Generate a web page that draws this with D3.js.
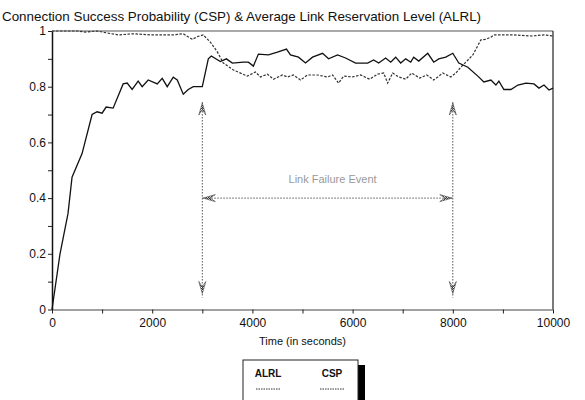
<!DOCTYPE html>
<html>
<head>
<meta charset="utf-8">
<script src="https://cdn.jsdelivr.net/npm/d3@7"></script>
<style>
  body { margin: 0; background: #fff; }
  svg { display: block; font-family: "Liberation Sans", Arial, Helvetica, sans-serif; }
</style>
</head>
<body>
<svg id="chart" width="585" height="400"></svg>
<script>
// ALRL (solid) and CSP (dashed)
const alrlTime = [0, 160, 320, 400, 600, 800, 900, 1000, 1080, 1220, 1420, 1500, 1600, 1720, 1800, 1920, 2100, 2200, 2300, 2420, 2500, 2620, 2720, 2820, 3000, 3120, 3180, 3360, 3480, 3600, 3820, 3920, 4020, 4120, 4320, 4500, 4680, 4760, 4920, 5060, 5200, 5400, 5520, 5700, 5860, 6060, 6300, 6420, 6520, 6660, 6760, 6860, 6960, 7060, 7160, 7220, 7320, 7500, 7620, 7720, 7860, 8000, 8120, 8300, 8500, 8620, 8760, 8860, 8920, 9020, 9160, 9300, 9460, 9620, 9720, 9820, 9920, 10000];
const alrlValue = [0, 0.2, 0.345, 0.475, 0.56, 0.70, 0.71, 0.705, 0.727, 0.723, 0.81, 0.813, 0.79, 0.82, 0.80, 0.824, 0.81, 0.83, 0.80, 0.834, 0.824, 0.773, 0.79, 0.80, 0.80, 0.90, 0.91, 0.89, 0.90, 0.885, 0.888, 0.888, 0.874, 0.917, 0.914, 0.924, 0.935, 0.914, 0.906, 0.885, 0.906, 0.92, 0.90, 0.914, 0.903, 0.885, 0.885, 0.896, 0.885, 0.903, 0.888, 0.906, 0.885, 0.90, 0.888, 0.906, 0.892, 0.92, 0.888, 0.90, 0.906, 0.92, 0.885, 0.87, 0.838, 0.817, 0.824, 0.806, 0.82, 0.79, 0.79, 0.806, 0.813, 0.81, 0.795, 0.806, 0.788, 0.795];

const cspTime = [0, 300, 520, 660, 900, 1100, 1320, 1620, 1960, 2420, 2620, 2800, 2900, 3020, 3160, 3300, 3420, 3620, 3900, 4060, 4160, 4300, 4420, 4600, 4700, 4820, 4960, 5100, 5300, 5500, 5600, 5720, 5820, 6000, 6160, 6340, 6500, 6620, 6700, 6800, 6920, 7060, 7180, 7340, 7480, 7620, 7800, 7960, 8060, 8160, 8260, 8400, 8560, 8660, 8760, 8820, 9220, 9560, 9820, 10000];
const cspValue = [1.0, 1.0, 1.0, 0.996, 1.0, 0.993, 0.986, 0.99, 0.986, 0.986, 0.99, 0.97, 0.98, 0.986, 0.96, 0.925, 0.885, 0.86, 0.838, 0.853, 0.835, 0.845, 0.827, 0.842, 0.835, 0.842, 0.824, 0.842, 0.842, 0.835, 0.842, 0.813, 0.838, 0.835, 0.842, 0.827, 0.845, 0.849, 0.813, 0.849, 0.835, 0.827, 0.849, 0.831, 0.842, 0.824, 0.849, 0.835, 0.849, 0.87, 0.888, 0.914, 0.968, 0.97, 0.978, 0.986, 0.986, 0.982, 0.986, 0.982];

const xTicks = [0, 2000, 4000, 6000, 8000, 10000];
const yTicks = [0, 0.2, 0.4, 0.6, 0.8, 1];
const legendNames = ['ALRL', 'CSP'];

// link failure annotation: from 3000s to 8000s
const failStart = 3000, failEnd = 8000;
const failTop = 0.745, failBottom = 0.043, failLevel = 0.4;

const svg = d3.select('#chart');
svg.append('rect').attr('width', 585).attr('height', 400).attr('fill', '#fff');

const margin = { top: 31, right: 32, bottom: 90, left: 52 };
const width = 585 - margin.left - margin.right;
const height = 400 - margin.top - margin.bottom - 0.5;

const g = svg.append('g').attr('transform', `translate(${margin.left},${margin.top})`);

const x = d3.scaleLinear().domain([0, 10000]).range([0, width]);
const y = d3.scaleLinear().domain([0, 1]).range([height, 0]);

// title
svg.append('text')
    .attr('x', 2).attr('y', 21)
    .attr('font-size', '13.4px').attr('fill', '#111')
    .text('Connection Success Probability (CSP) & Average Link Reservation Level (ALRL)');

// frame (top + right)
g.append('line').attr('x1', 0).attr('x2', width).attr('y1', 0).attr('y2', 0)
    .attr('stroke', '#555').attr('stroke-width', 1);
g.append('line').attr('x1', width).attr('x2', width).attr('y1', 0).attr('y2', height)
    .attr('stroke', '#222').attr('stroke-width', 1.2);

// axes
const xAxis = g.append('g').attr('transform', `translate(0,${height})`)
    .call(d3.axisBottom(x).tickValues(d3.range(0, 10001, 1000))
        .tickFormat(d => xTicks.includes(d) ? d : '').tickSize(4).tickSizeOuter(0));
xAxis.select('.domain').attr('stroke', '#444').attr('stroke-width', 1.2);
xAxis.selectAll('line').attr('stroke', '#222');
xAxis.selectAll('text').attr('font-size', '12px').attr('fill', '#111').attr('dy', '0.9em');

const yAxis = g.append('g')
    .call(d3.axisLeft(y).tickValues(d3.range(0, 11).map(i => i / 10))
        .tickFormat(d => yTicks.some(t => Math.abs(t - d) < 1e-9) ? d3.format('~g')(d) : '')
        .tickSize(4).tickSizeOuter(0));
yAxis.select('.domain').attr('stroke', '#111').attr('stroke-width', 1.5);
yAxis.selectAll('line').attr('stroke', '#222');
yAxis.selectAll('text').attr('font-size', '12px').attr('fill', '#111').attr('x', -6);

svg.append('text')
    .attr('x', margin.left + width / 2).attr('y', 345)
    .attr('text-anchor', 'middle').attr('font-size', '11px').attr('fill', '#111')
    .text('Time (in seconds)');

// series
const line = d3.line().x(d => x(d[0])).y(d => y(d[1]));
g.append('path')
    .datum(d3.zip(cspTime, cspValue))
    .attr('d', line).attr('fill', 'none')
    .attr('stroke', '#333').attr('stroke-width', 1.2).attr('stroke-dasharray', '2.5,1.5');
g.append('path')
    .datum(d3.zip(alrlTime, alrlValue))
    .attr('d', line).attr('fill', 'none')
    .attr('stroke', '#111').attr('stroke-width', 1.3);

// checkered fill for the arrowheads
const pat = svg.append('defs').append('pattern')
    .attr('id', 'checker').attr('width', 2).attr('height', 2)
    .attr('patternUnits', 'userSpaceOnUse');
pat.append('rect').attr('width', 1).attr('height', 1).attr('fill', '#333');
pat.append('rect').attr('x', 1).attr('y', 1).attr('width', 1).attr('height', 1).attr('fill', '#333');

const ann = g.append('g');
const dotted = sel => sel.attr('stroke', '#555').attr('stroke-width', 1).attr('stroke-dasharray', '1.5,1.5');

[failStart, failEnd].forEach(t => {
    ann.append('line').attr('x1', x(t)).attr('x2', x(t))
        .attr('y1', y(failTop)).attr('y2', y(failBottom)).call(dotted);
});
ann.append('line').attr('x1', x(failStart)).attr('x2', x(failEnd))
    .attr('y1', y(failLevel)).attr('y2', y(failLevel)).call(dotted);

// arrowhead: tip at (px,py), dir in radians
function arrowHead(px, py, angle) {
    const len = 12, half = 3.5;
    const pts = [[0, 0], [len, -half], [len * 0.55, 0], [len, half]].map(([a, b]) => [
        px + a * Math.cos(angle) - b * Math.sin(angle),
        py + a * Math.sin(angle) + b * Math.cos(angle)
    ]);
    ann.append('path').attr('d', 'M' + pts.join('L') + 'Z')
        .attr('fill', 'url(#checker)').attr('stroke', '#555').attr('stroke-width', 0.7);
}
[failStart, failEnd].forEach(t => {
    arrowHead(x(t), y(failTop) + 1, Math.PI / 2);
    arrowHead(x(t), y(failBottom) - 4, -Math.PI / 2);
});
arrowHead(x(failStart) + 1, y(failLevel), 0);
arrowHead(x(failEnd) - 1, y(failLevel), Math.PI);

ann.append('text')
    .attr('x', x((failStart + failEnd) / 2) + 5).attr('y', y(failLevel) - 15)
    .attr('text-anchor', 'middle').attr('font-size', '11px').attr('fill', '#999')
    .text('Link Failure Event');

// legend box with drop shadow
const lg = svg.append('g').attr('transform', 'translate(243,360)');
lg.append('rect').attr('x', 115).attr('y', 5).attr('width', 7).attr('height', 45).attr('fill', '#000');
lg.append('rect').attr('x', 0).attr('y', 0).attr('width', 115).attr('height', 50)
    .attr('fill', '#fff').attr('stroke', '#222').attr('stroke-width', 1);
legendNames.forEach((name, i) => {
    const cx = 25 + i * 64;
    lg.append('text').attr('x', cx).attr('y', 17)
        .attr('text-anchor', 'middle').attr('font-size', '10px').attr('font-weight', 600)
        .attr('fill', '#111')
        .text(name);
    lg.append('line').attr('x1', cx - 12).attr('x2', cx + 12).attr('y1', 29).attr('y2', 29)
        .attr('stroke', '#333').attr('stroke-width', 1).attr('stroke-dasharray', '1.5,1');
});
</script>
</body>
</html>
